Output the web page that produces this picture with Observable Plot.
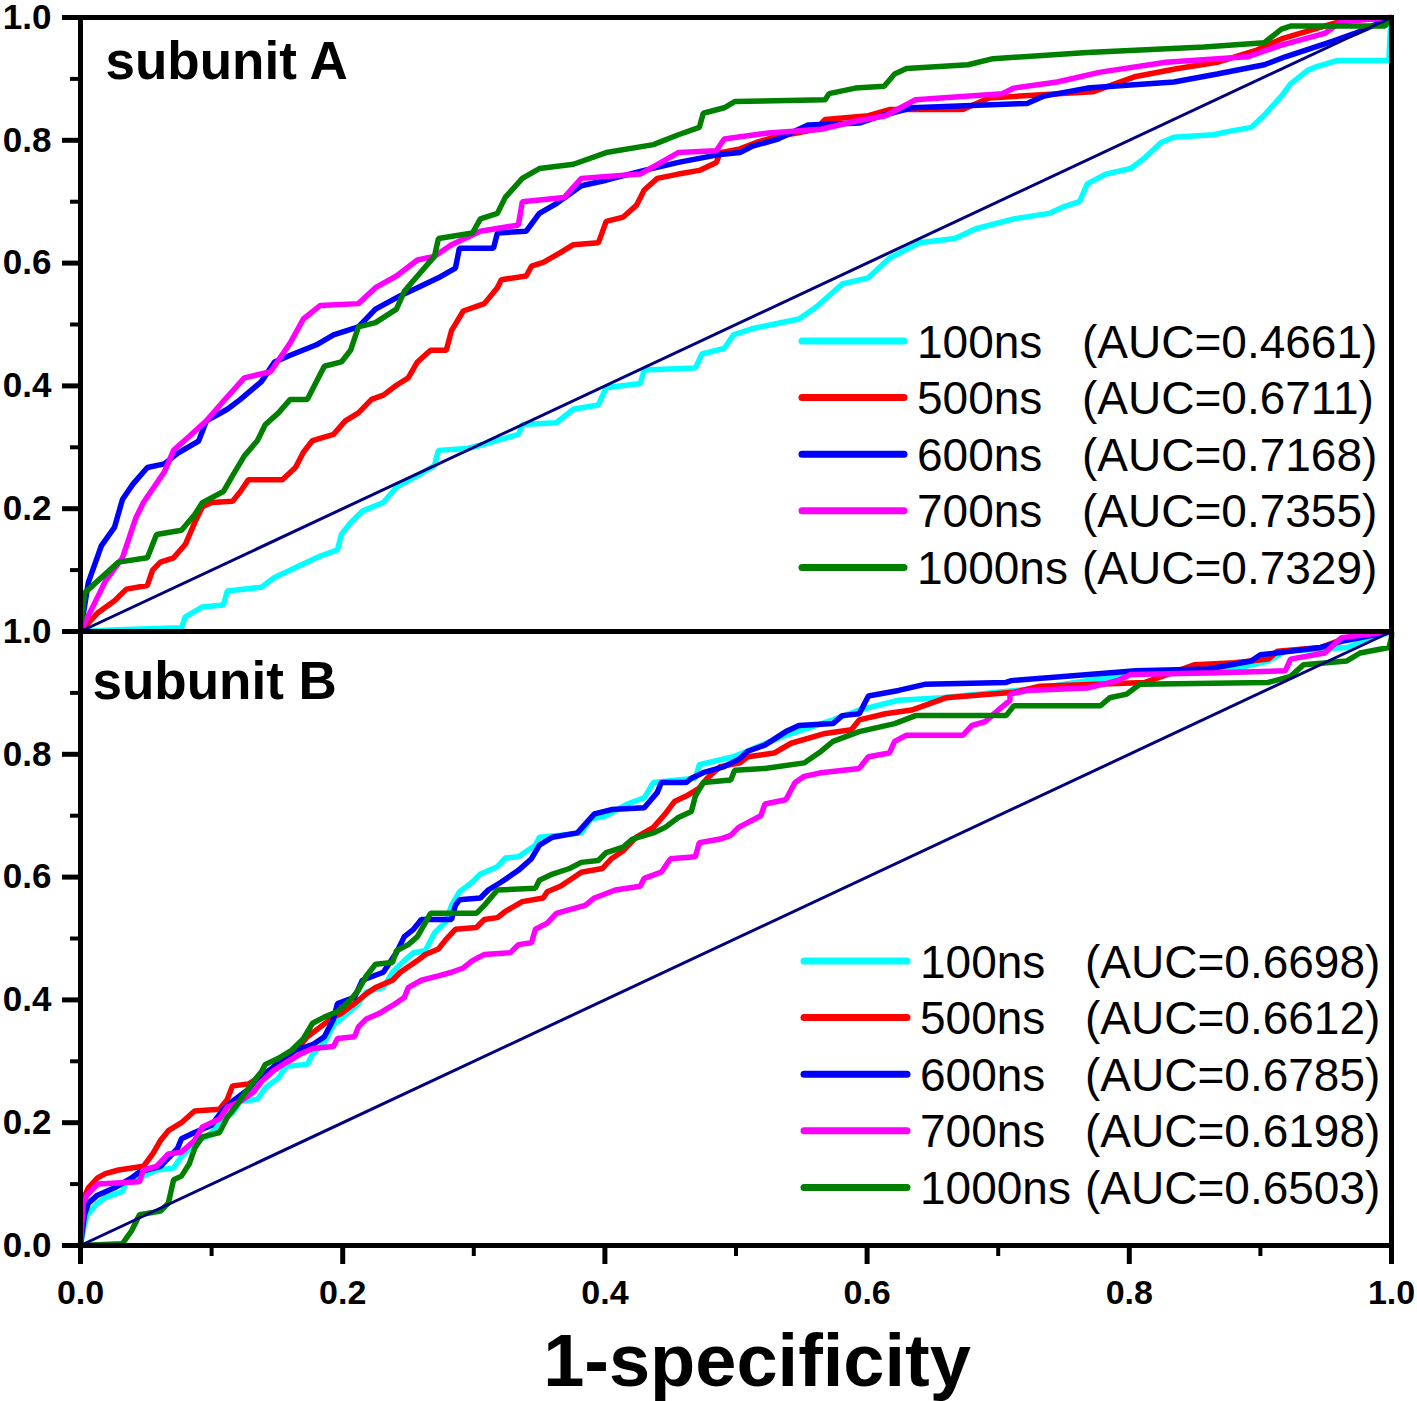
<!DOCTYPE html>
<html><head><meta charset="utf-8">
<script src="https://cdn.jsdelivr.net/npm/d3@7"></script>
<script src="https://cdn.jsdelivr.net/npm/@observablehq/plot@0.6"></script>
<style>
html,body{margin:0;padding:0;background:#fff;}
#wrap{position:relative;width:1417px;height:1401px;font-family:"Liberation Sans",Arial,sans-serif;}
#wrap > svg, #wrap > .plotbox{position:absolute;left:0;}
</style></head>
<body><div id="wrap"></div>
<script>
const series = ["100ns","500ns","600ns","700ns","1000ns"];
const colors = ["#00ffff","#ff0000","#0000ff","#ff00ff","#008000"];
const aucA = ["0.4661","0.6711","0.7168","0.7355","0.7329"];
const aucB = ["0.6698","0.6612","0.6785","0.6198","0.6503"];
const majorTicks = [0,0.2,0.4,0.6,0.8,1.0];
const minorTicks = [0.1,0.3,0.5,0.7,0.9];
const diagonal = [[0,0],[1,1]];

const A100 = [[0,0],[0.029,0.003],[0.077,0.006],[0.08,0.024],[0.093,0.04],[0.109,0.043],[0.112,0.066],[0.138,0.072],[0.148,0.088],[0.167,0.107],[0.183,0.123],[0.196,0.133],[0.199,0.158],[0.206,0.177],[0.215,0.196],[0.231,0.21],[0.241,0.235],[0.257,0.254],[0.27,0.27],[0.273,0.295],[0.295,0.298],[0.308,0.305],[0.334,0.321],[0.337,0.337],[0.363,0.34],[0.376,0.362],[0.395,0.369],[0.401,0.397],[0.427,0.404],[0.43,0.426],[0.469,0.429],[0.474,0.452],[0.491,0.461],[0.498,0.483],[0.512,0.493],[0.548,0.509],[0.561,0.528],[0.581,0.566],[0.601,0.576],[0.617,0.608],[0.64,0.633],[0.667,0.64],[0.683,0.656],[0.712,0.672],[0.739,0.681],[0.749,0.691],[0.762,0.70],[0.768,0.729],[0.782,0.745],[0.801,0.754],[0.811,0.77],[0.824,0.796],[0.834,0.805],[0.864,0.809],[0.877,0.815],[0.893,0.821],[0.903,0.841],[0.916,0.872],[0.923,0.892],[0.936,0.914],[0.943,0.92],[0.959,0.93],[0.998,0.93],[0.999,0.974],[1,1]];
const A500 = [[0,0],[0.013,0.03],[0.026,0.05],[0.035,0.069],[0.051,0.075],[0.055,0.1],[0.061,0.113],[0.071,0.12],[0.08,0.142],[0.087,0.177],[0.093,0.203],[0.1,0.21],[0.116,0.212],[0.122,0.228],[0.128,0.247],[0.154,0.247],[0.164,0.267],[0.17,0.292],[0.177,0.311],[0.193,0.321],[0.202,0.343],[0.212,0.356],[0.222,0.378],[0.231,0.385],[0.241,0.401],[0.25,0.413],[0.257,0.439],[0.267,0.458],[0.279,0.458],[0.283,0.49],[0.292,0.522],[0.308,0.534],[0.318,0.56],[0.321,0.573],[0.34,0.579],[0.344,0.595],[0.353,0.601],[0.366,0.617],[0.376,0.63],[0.395,0.633],[0.401,0.668],[0.414,0.675],[0.424,0.694],[0.43,0.719],[0.44,0.738],[0.456,0.745],[0.472,0.751],[0.485,0.764],[0.488,0.78],[0.503,0.786],[0.515,0.796],[0.529,0.805],[0.561,0.818],[0.568,0.834],[0.601,0.84],[0.617,0.85],[0.673,0.85],[0.693,0.869],[0.772,0.879],[0.805,0.904],[0.837,0.917],[0.867,0.927],[0.896,0.946],[0.916,0.965],[0.936,0.978],[0.962,0.994],[1,1]];
const A600 = [[0,0],[0.006,0.08],[0.016,0.14],[0.026,0.17],[0.032,0.215],[0.04,0.24],[0.051,0.267],[0.064,0.273],[0.074,0.29],[0.09,0.31],[0.096,0.343],[0.112,0.362],[0.122,0.378],[0.138,0.407],[0.148,0.439],[0.16,0.45],[0.18,0.467],[0.193,0.483],[0.212,0.496],[0.225,0.525],[0.244,0.547],[0.257,0.56],[0.273,0.576],[0.286,0.592],[0.289,0.624],[0.315,0.624],[0.318,0.649],[0.34,0.652],[0.35,0.681],[0.363,0.697],[0.382,0.726],[0.401,0.735],[0.43,0.751],[0.456,0.764],[0.488,0.777],[0.503,0.78],[0.512,0.79],[0.532,0.802],[0.555,0.825],[0.594,0.828],[0.611,0.84],[0.634,0.853],[0.722,0.86],[0.735,0.872],[0.768,0.885],[0.834,0.895],[0.867,0.908],[0.903,0.923],[0.919,0.936],[0.956,0.962],[0.972,0.974],[1,1]];
const A700 = [[0,0],[0.01,0.043],[0.019,0.082],[0.032,0.12],[0.042,0.184],[0.048,0.21],[0.064,0.26],[0.071,0.295],[0.083,0.318],[0.096,0.343],[0.109,0.375],[0.125,0.413],[0.145,0.423],[0.16,0.47],[0.17,0.509],[0.183,0.531],[0.212,0.534],[0.225,0.56],[0.241,0.579],[0.257,0.605],[0.27,0.611],[0.283,0.63],[0.305,0.652],[0.334,0.662],[0.337,0.70],[0.369,0.707],[0.382,0.738],[0.427,0.745],[0.456,0.78],[0.485,0.783],[0.491,0.802],[0.525,0.812],[0.565,0.818],[0.591,0.831],[0.614,0.84],[0.637,0.866],[0.703,0.876],[0.712,0.885],[0.745,0.895],[0.778,0.911],[0.828,0.927],[0.89,0.936],[0.916,0.955],[0.949,0.974],[0.962,0.994],[1,1]];
const A1000 = [[0,0],[0.003,0.0625],[0.013,0.082],[0.029,0.113],[0.051,0.12],[0.058,0.158],[0.077,0.165],[0.087,0.19],[0.093,0.21],[0.109,0.228],[0.116,0.254],[0.125,0.286],[0.135,0.311],[0.141,0.337],[0.151,0.356],[0.16,0.378],[0.173,0.378],[0.18,0.407],[0.186,0.432],[0.199,0.439],[0.206,0.458],[0.212,0.496],[0.225,0.503],[0.241,0.525],[0.247,0.554],[0.257,0.579],[0.27,0.611],[0.273,0.64],[0.299,0.649],[0.305,0.672],[0.318,0.681],[0.324,0.707],[0.337,0.738],[0.35,0.754],[0.376,0.761],[0.401,0.78],[0.437,0.793],[0.456,0.809],[0.472,0.821],[0.475,0.844],[0.491,0.853],[0.499,0.863],[0.568,0.866],[0.571,0.876],[0.591,0.885],[0.613,0.888],[0.621,0.908],[0.63,0.917],[0.677,0.923],[0.696,0.933],[0.768,0.943],[0.857,0.952],[0.903,0.959],[0.916,0.981],[0.923,0.986],[0.995,0.986],[1,1]];

const B100 = [[0,0],[0.002,0.024],[0.005,0.05],[0.013,0.069],[0.019,0.078],[0.032,0.088],[0.035,0.104],[0.048,0.113],[0.058,0.123],[0.071,0.126],[0.077,0.145],[0.083,0.158],[0.09,0.171],[0.096,0.177],[0.103,0.19],[0.106,0.203],[0.116,0.216],[0.122,0.235],[0.135,0.238],[0.141,0.257],[0.151,0.273],[0.157,0.292],[0.173,0.295],[0.177,0.311],[0.186,0.33],[0.193,0.359],[0.202,0.375],[0.212,0.394],[0.218,0.413],[0.231,0.42],[0.238,0.445],[0.247,0.464],[0.254,0.477],[0.263,0.48],[0.27,0.509],[0.279,0.528],[0.283,0.554],[0.289,0.576],[0.299,0.592],[0.305,0.605],[0.318,0.617],[0.324,0.631],[0.334,0.633],[0.347,0.652],[0.35,0.665],[0.366,0.668],[0.382,0.672],[0.389,0.694],[0.401,0.70],[0.417,0.719],[0.43,0.729],[0.437,0.754],[0.469,0.761],[0.472,0.783],[0.498,0.796],[0.538,0.831],[0.574,0.856],[0.594,0.872],[0.624,0.888],[0.657,0.892],[0.732,0.908],[0.798,0.93],[0.867,0.933],[0.906,0.952],[0.919,0.968],[0.966,0.974],[0.978,0.984],[1,1]];
const B500 = [[0,0],[0.002,0.075],[0.006,0.094],[0.013,0.11],[0.019,0.117],[0.029,0.123],[0.048,0.129],[0.055,0.149],[0.061,0.171],[0.067,0.187],[0.077,0.2],[0.087,0.219],[0.106,0.222],[0.112,0.238],[0.116,0.26],[0.128,0.263],[0.138,0.276],[0.148,0.292],[0.157,0.305],[0.167,0.324],[0.173,0.34],[0.183,0.356],[0.193,0.372],[0.199,0.378],[0.209,0.394],[0.218,0.41],[0.225,0.42],[0.238,0.432],[0.244,0.445],[0.257,0.464],[0.263,0.474],[0.273,0.483],[0.279,0.499],[0.286,0.515],[0.302,0.518],[0.308,0.531],[0.318,0.534],[0.324,0.544],[0.337,0.56],[0.353,0.566],[0.356,0.576],[0.366,0.585],[0.373,0.595],[0.382,0.608],[0.398,0.614],[0.405,0.63],[0.414,0.643],[0.424,0.665],[0.437,0.681],[0.446,0.703],[0.453,0.723],[0.462,0.732],[0.472,0.745],[0.478,0.761],[0.488,0.78],[0.503,0.786],[0.509,0.796],[0.529,0.802],[0.542,0.818],[0.568,0.834],[0.588,0.84],[0.594,0.856],[0.614,0.866],[0.634,0.872],[0.66,0.892],[0.712,0.901],[0.732,0.911],[0.812,0.917],[0.85,0.946],[0.88,0.949],[0.906,0.955],[0.913,0.968],[0.946,0.974],[0.962,0.987],[1,1]];
const B600 = [[0,0],[0.003,0.05],[0.006,0.069],[0.013,0.082],[0.026,0.094],[0.039,0.11],[0.045,0.12],[0.061,0.129],[0.074,0.158],[0.077,0.174],[0.087,0.184],[0.1,0.196],[0.109,0.222],[0.116,0.235],[0.128,0.254],[0.135,0.273],[0.145,0.286],[0.154,0.305],[0.164,0.318],[0.177,0.327],[0.186,0.34],[0.193,0.369],[0.196,0.394],[0.209,0.404],[0.215,0.432],[0.231,0.445],[0.241,0.477],[0.247,0.503],[0.254,0.515],[0.26,0.531],[0.283,0.531],[0.286,0.554],[0.289,0.563],[0.305,0.566],[0.311,0.579],[0.321,0.592],[0.334,0.611],[0.344,0.63],[0.35,0.652],[0.36,0.665],[0.379,0.672],[0.392,0.703],[0.405,0.71],[0.43,0.713],[0.44,0.738],[0.443,0.754],[0.462,0.754],[0.466,0.761],[0.475,0.77],[0.491,0.78],[0.503,0.793],[0.509,0.805],[0.522,0.815],[0.538,0.837],[0.548,0.847],[0.574,0.85],[0.581,0.863],[0.594,0.866],[0.601,0.895],[0.624,0.904],[0.644,0.914],[0.706,0.917],[0.71,0.92],[0.805,0.936],[0.86,0.939],[0.893,0.952],[0.9,0.962],[0.946,0.974],[0.962,0.984],[1,1]];
const B700 = [[0,0],[0.002,0.069],[0.005,0.082],[0.013,0.1],[0.045,0.104],[0.048,0.123],[0.058,0.129],[0.067,0.149],[0.077,0.152],[0.087,0.171],[0.093,0.193],[0.106,0.206],[0.112,0.225],[0.122,0.235],[0.132,0.25],[0.138,0.267],[0.148,0.286],[0.157,0.298],[0.167,0.311],[0.177,0.321],[0.193,0.324],[0.196,0.337],[0.209,0.34],[0.212,0.356],[0.218,0.369],[0.228,0.378],[0.238,0.391],[0.247,0.404],[0.25,0.42],[0.26,0.432],[0.273,0.439],[0.283,0.445],[0.292,0.452],[0.299,0.464],[0.308,0.474],[0.328,0.477],[0.334,0.49],[0.344,0.493],[0.347,0.515],[0.356,0.525],[0.363,0.541],[0.373,0.547],[0.385,0.554],[0.392,0.566],[0.408,0.579],[0.427,0.585],[0.43,0.598],[0.443,0.608],[0.45,0.63],[0.469,0.633],[0.472,0.656],[0.488,0.662],[0.496,0.668],[0.502,0.681],[0.519,0.70],[0.522,0.719],[0.538,0.726],[0.545,0.754],[0.552,0.764],[0.565,0.77],[0.594,0.777],[0.601,0.796],[0.617,0.802],[0.621,0.821],[0.63,0.831],[0.673,0.831],[0.68,0.847],[0.69,0.853],[0.70,0.872],[0.709,0.888],[0.709,0.898],[0.722,0.904],[0.768,0.908],[0.791,0.92],[0.801,0.93],[0.867,0.933],[0.919,0.936],[0.923,0.955],[0.949,0.965],[0.962,0.99],[1,1]];
const B1000 = [[0,0],[0.032,0.003],[0.039,0.024],[0.045,0.05],[0.061,0.056],[0.067,0.069],[0.071,0.107],[0.077,0.113],[0.083,0.133],[0.087,0.158],[0.093,0.177],[0.106,0.184],[0.112,0.209],[0.119,0.228],[0.125,0.247],[0.132,0.267],[0.138,0.283],[0.141,0.295],[0.151,0.305],[0.161,0.318],[0.17,0.337],[0.177,0.362],[0.186,0.372],[0.196,0.381],[0.206,0.40],[0.212,0.416],[0.218,0.439],[0.225,0.458],[0.238,0.461],[0.241,0.48],[0.25,0.49],[0.257,0.503],[0.267,0.541],[0.302,0.541],[0.308,0.554],[0.318,0.579],[0.347,0.582],[0.35,0.595],[0.36,0.605],[0.373,0.614],[0.382,0.624],[0.395,0.627],[0.401,0.64],[0.414,0.649],[0.421,0.662],[0.437,0.672],[0.446,0.681],[0.456,0.697],[0.466,0.707],[0.469,0.732],[0.475,0.754],[0.496,0.758],[0.499,0.774],[0.522,0.777],[0.552,0.786],[0.565,0.805],[0.574,0.821],[0.594,0.837],[0.621,0.85],[0.637,0.863],[0.706,0.863],[0.712,0.879],[0.778,0.879],[0.785,0.892],[0.798,0.898],[0.808,0.914],[0.906,0.917],[0.923,0.927],[0.933,0.946],[0.966,0.952],[0.976,0.965],[0.998,0.974],[1,0.99],[1,1]];

const curvesA = [A100, A500, A600, A700, A1000];
const curvesB = [B100, B500, B600, B700, B1000];

const font = "Liberation Sans, Arial, sans-serif";
const wrap = document.getElementById("wrap");

function rows(curves){
  return curves.flatMap((c,i) => c.map(([x,y]) => ({series: series[i], x, y})));
}

function panel({curves, title, titleDx, titleDy, yTicks, top, height, marginBottom, showX}){
  const marks = [
    Plot.line(rows(curves), {x:"x", y:"y", z:"series", stroke:"series", strokeWidth:5.5, strokeLinejoin:"miter", strokeLinecap:"butt"}),
    Plot.line(diagonal, {x:d=>d[0], y:d=>d[1], stroke:"#000080", strokeWidth:3}),
    Plot.frame({stroke:"black", strokeWidth:5}),
    Plot.axisY(yTicks, {anchor:"left", tickSize:18, tickPadding:11, strokeWidth:5, fontSize:35, fontWeight:"bold", tickFormat:d3.format(".1f"), label:null}),
    Plot.axisY(minorTicks, {anchor:"left", tickSize:10, strokeWidth:4, tickFormat:()=>"", label:null}),
    Plot.text([title], {frameAnchor:"top-left", dx:titleDx, dy:titleDy, lineAnchor:"bottom", fontSize:53, fontWeight:"bold", fill:"black"})
  ];
  if (showX) {
    marks.push(
      Plot.axisX(majorTicks, {anchor:"bottom", tickSize:19, tickPadding:15, strokeWidth:5, fontSize:34, fontWeight:"bold", tickFormat:d3.format(".1f"), label:null}),
      Plot.axisX(minorTicks, {anchor:"bottom", tickSize:11, strokeWidth:4, tickFormat:()=>"", label:null}),
      Plot.text(["1-specificity"], {frameAnchor:"bottom", lineAnchor:"bottom", dx:21, dy:140, fontSize:74, fontWeight:"bold", fill:"black"})
    );
  }
  const p = Plot.plot({
    width:1417, height, marginLeft:80, marginRight:26, marginTop:17, marginBottom,
    x:{domain:[0,1], axis: showX ? undefined : null, label:null},
    y:{domain:[0,1], label:null},
    color:{domain:series, range:colors},
    style:{background:"transparent", fontFamily:font, overflow:"visible", color:"black"},
    marks
  });
  p.style.position = "absolute";
  p.style.left = "0px";
  p.style.top = top + "px";
  p.style.maxWidth = "none";
  wrap.appendChild(p);
}

panel({curves:curvesA, title:"subunit A", titleDx:25, titleDy:61, yTicks:[0.2,0.4,0.6,0.8,1.0], top:0, height:651, marginBottom:20, showX:false});
panel({curves:curvesB, title:"subunit B", titleDx:12, titleDy:67, yTicks:majorTicks, top:614, height:787, marginBottom:156, showX:true});

// legends
function legend(auc, lineX0, lineX1, nameX, aucX, rowY0){
  const svg = d3.select(wrap).append("svg")
    .attr("width",1417).attr("height",1401)
    .style("position","absolute").style("left","0px").style("top","0px")
    .style("pointer-events","none");
  const g = svg.selectAll("g").data(series).join("g")
    .attr("transform",(d,i)=>`translate(0,${rowY0 + i*56.6})`);
  g.append("line").attr("x1",lineX0).attr("x2",lineX1).attr("y1",0).attr("y2",0)
    .attr("stroke",(d,i)=>colors[i]).attr("stroke-width",7).attr("stroke-linecap","round");
  g.append("text").attr("x",nameX).attr("y",16.5).attr("font-family",font).attr("font-size",46)
    .text(d=>d);
  g.append("text").attr("x",aucX).attr("y",16.5).attr("font-family",font).attr("font-size",46)
    .text((d,i)=>`(AUC=${auc[i]})`);
}
legend(aucA, 802, 904, 917, 1082, 341);
legend(aucB, 804, 907, 920, 1085, 961);
</script></body></html>
